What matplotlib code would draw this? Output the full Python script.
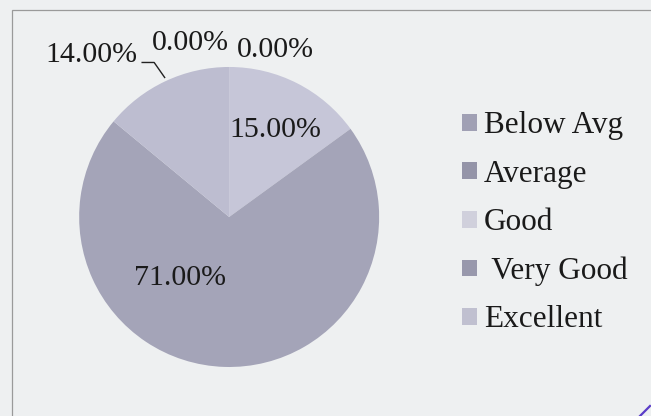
import matplotlib.pyplot as plt
from matplotlib.patches import Rectangle, Patch
from matplotlib.lines import Line2D

categories = ["Below Avg", "Average", "Good", " Very Good", "Excellent"]
shares = [0.0, 0.0, 15.0, 71.0, 14.0]
slice_colors = ["#a2a2b6", "#9696aa", "#c6c6d8", "#a4a4b8", "#bdbdd0"]
legend_colors = ["#a0a0b4", "#9494a8", "#d0d0dc", "#9898ac", "#c0c0d0"]

# label anchor points (pie data units)
label_pos = [(-0.26, 1.16), (0.31, 1.11), (0.31, 0.58), (-0.33, -0.41), (-0.92, 1.08)]

plt.rcParams["font.family"] = ["Liberation Serif", "DejaVu Serif"]
bg = "#eef0f1"

fig = plt.figure(figsize=(6.51, 4.16), dpi=100, facecolor=bg)
ax = fig.add_axes([0.1216, 0.1178, 0.4608, 0.7212])
ax.set_facecolor(bg)

wedges, _ = ax.pie(shares, colors=slice_colors, startangle=90, counterclock=False,
                   wedgeprops=dict(linewidth=0))
ax.set_xlim(-1, 1)
ax.set_ylim(-1, 1)
ax.set_aspect("auto")
ax.axis("off")

for val, (lx, ly) in zip(shares, label_pos):
    ax.text(lx, ly, f"{val:.2f}%", ha="center", va="center", fontsize=21.5,
            color="#1a1a1a", clip_on=False)

# leader line for the 14% label
ax.plot([-0.58, -0.50, -0.43], [1.03, 1.03, 0.93], color="#222222", lw=1.0,
        clip_on=False)

handles = [Patch(facecolor=c, edgecolor="none") for c in legend_colors]
fig.legend(handles, categories, loc="upper left", bbox_to_anchor=(0.7104, 0.732),
           frameon=False, fontsize=22.5, handlelength=0.45, handleheight=0.45,
           handletextpad=0.24, labelspacing=0.62, borderpad=0, borderaxespad=0,
           labelcolor="#1a1a1a")

# scanned frame and pen stroke
fig.add_artist(Rectangle((12 / 651, -0.1), 1.2, 1 - 10 / 416 + 0.1,
                         transform=fig.transFigure, fill=False,
                         edgecolor="#9a9a9a", lw=0.9))
fig.add_artist(Line2D([650 / 651, 640 / 651], [1 - 406 / 416, 0.0],
                      transform=fig.transFigure, color="#5a3cc8", lw=1.6))

fig.savefig("out.png", dpi=100, facecolor=bg)
